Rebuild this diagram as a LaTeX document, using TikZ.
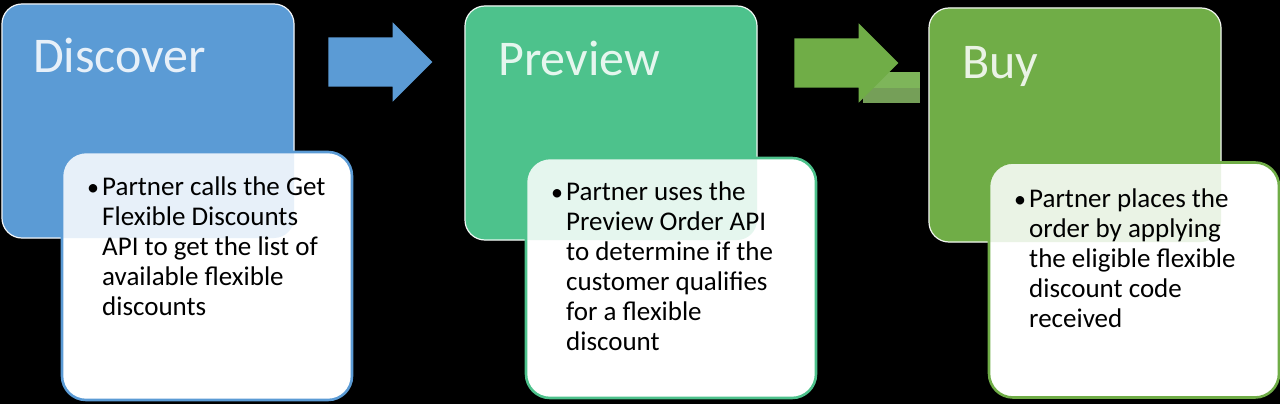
\documentclass[tikz,border=0pt]{standalone}
\usepackage{fontspec}
\setmainfont{Carlito}
\usetikzlibrary{shapes.arrows}

\definecolor{discoverblue}{RGB}{91,155,213}
\definecolor{previewgreen}{RGB}{77,194,140}
\definecolor{buygreen}{RGB}{112,173,71}

\begin{document}
\begin{tikzpicture}[x=1pt, y=-1pt,
                    stage/.style={rectangle, rounded corners=20, draw=white, line width=1.2, inner sep=0, minimum width=292, minimum height=234},
                    tint/.style={rectangle, rounded corners=20, fill opacity=0.14, inner sep=0, minimum width=292, minimum height=234},
                    note/.style={rectangle, rounded corners=24, fill=white, line width=2.6, inner sep=0, minimum width=290},
                    title/.style={anchor=base west, text=white, inner sep=0, font=\fontsize{50}{58}\selectfont},
                    dot/.style={anchor=base west, inner sep=0, font=\fontsize{24}{30}\selectfont},
                    item/.style={anchor=base west, align=left, inner sep=0, font=\fontsize{27}{30}\selectfont},
                    flow/.style={single arrow, single arrow head extend=15, minimum height=104, text height=49, text depth=0, inner sep=0}
                ]

                % Background
                \fill[black] (0,0) rectangle (1280,404);
                \useasboundingbox (0,0) rectangle (1280,404);

                % Stages
                \node[stage, fill=discoverblue] (discover) at (148,121) {};
                \node[stage, fill=previewgreen] (preview) at (611,123) {};
                \node[stage, fill=buygreen] (buy) at (1075,125) {};

                \node[title] (discoverTitle) at (33,73) {Discover};
                \node[title] (previewTitle) at (498,76) {Preview};
                \node[title] (buyTitle) at (962,78) {Buy};

                % Arrows between stages
                \node[flow, fill=discoverblue] (flowOne) at (368,62) {};
                \fill[buygreen!90!white] (863,72) rectangle (920,88);
                \fill[buygreen!70!gray] (863,88) rectangle (920,103);
                \node[flow, fill=buygreen] (flowTwo) at (834,63) {};

                % Notes
                \node[note, draw=discoverblue, minimum height=248] (discoverNote) at (207,276) {};
                \node[note, draw=previewgreen, minimum height=240] (previewNote) at (671,278) {};
                \node[note, draw=buygreen, minimum height=235] (buyNote) at (1134,280) {};

                % stage colour seen through the notes
                \node[tint, fill=discoverblue] at (discover) {};
                \node[tint, fill=previewgreen] at (preview) {};
                \node[tint, fill=buygreen] at (buy) {};

                \node[dot] (discoverDot) at (87,195) {\textbullet};
                \node[item] (discoverText) at (102,315) {Partner calls the Get\\Flexible Discounts\\API to get the list of\\available flexible\\discounts};

                \node[dot] (previewDot) at (551,200) {\textbullet};
                \node[item] (previewText) at (566,350) {Partner uses the\\Preview Order API\\to determine if the\\customer qualifies\\for a flexible\\discount};

                \node[dot] (buyDot) at (1014,207) {\textbullet};
                \node[item] (buyText) at (1029,327) {Partner places the\\order by applying\\the eligible flexible\\discount code\\received};
            \end{tikzpicture}
\end{document}
